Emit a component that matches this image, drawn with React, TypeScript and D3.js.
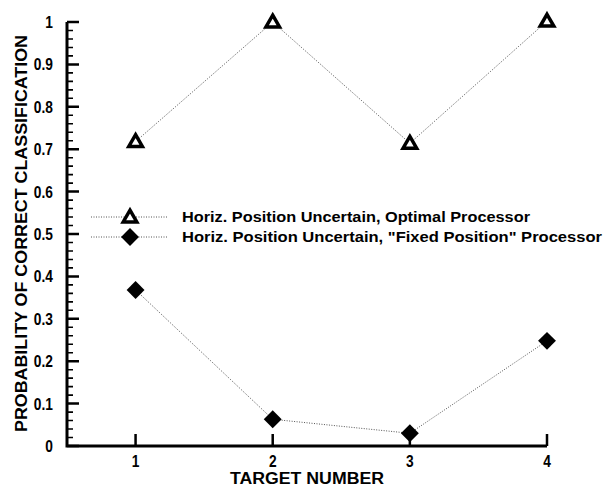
import { useEffect, useRef } from "react";
import * as d3 from "d3";

const targets = [1, 2, 3, 4];
const optimal = [0.718, 1.0, 0.714, 1.002];
const fixedPos = [0.368, 0.063, 0.03, 0.248];
const yTicks = [0, 0.1, 0.2, 0.3, 0.4, 0.5, 0.6, 0.7, 0.8, 0.9, 1];
const legendLabels = [
  "Horiz. Position Uncertain, Optimal Processor",
  'Horiz. Position Uncertain, "Fixed Position" Processor',
];
const legendWidths = [348, 420];

export default function App() {
  const svgRef = useRef<SVGSVGElement>(null);

  useEffect(() => {
    if (!svgRef.current) return;
    const svg = d3.select(svgRef.current);
    svg.selectAll("*").remove();

    const font = "'Liberation Sans', Arial, sans-serif";
    const x = d3.scaleLinear().domain([0.5, 4]).range([67, 547]);
    const y = d3.scaleLinear().domain([0, 1]).range([446, 22]);

    // y ticks: minor every 0.02, major every 0.1, pointing inward
    const minor = d3.range(0, 51).map((i) => i / 50);
    const isMajor = (d: number) => Math.round(d * 50) % 5 === 0;
    svg
      .append("path")
      .attr("d", minor.filter((d) => !isMajor(d)).map((d) => `M${x(0.5)},${y(d)}h6`).join(""))
      .attr("fill", "none")
      .attr("stroke", "#000")
      .attr("stroke-width", 1.6);
    svg
      .append("path")
      .attr("d", minor.filter(isMajor).map((d) => `M${x(0.5)},${y(d)}h12`).join(""))
      .attr("fill", "none")
      .attr("stroke", "#000")
      .attr("stroke-width", 2.5);

    svg
      .append("g")
      .selectAll("text")
      .data(yTicks)
      .join("text")
      .attr("x", 53)
      .attr("y", (d) => y(d) + 6)
      .attr("text-anchor", "end")
      .attr("font-family", font)
      .attr("font-size", 16)
      .attr("font-weight", "bold")
      .attr("transform", `translate(${53 * 0.14},0) scale(0.86,1)`)
      .text((d) => (d === 0 || d === 1 ? String(d) : d3.format(".1f")(d)));

    // x ticks
    svg
      .append("path")
      .attr("d", targets.map((d) => `M${x(d)},${y(0)}v-12`).join(""))
      .attr("fill", "none")
      .attr("stroke", "#000")
      .attr("stroke-width", 2.5);

    svg
      .append("g")
      .selectAll("text")
      .data(targets)
      .join("text")
      .attr("x", (d) => x(d) / 0.86)
      .attr("y", 467)
      .attr("text-anchor", "middle")
      .attr("font-family", font)
      .attr("font-size", 16)
      .attr("font-weight", "bold")
      .attr("transform", "scale(0.86,1)")
      .text((d) => d);

    // axes
    svg
      .append("path")
      .attr("d", `M${x(0.5)},${y(1)}V${y(0)}H${x(4)}`)
      .attr("fill", "none")
      .attr("stroke", "#000")
      .attr("stroke-width", 3);

    // axis titles
    svg
      .append("text")
      .attr("x", 230)
      .attr("y", 484)
      .attr("font-family", font)
      .attr("font-weight", "bold")
      .attr("font-size", 16)
      .attr("textLength", 154)
      .attr("lengthAdjust", "spacingAndGlyphs")
      .text("TARGET NUMBER");

    svg
      .append("text")
      .attr("transform", `translate(27,432) rotate(-90)`)
      .attr("font-family", font)
      .attr("font-weight", "bold")
      .attr("font-size", 16)
      .attr("textLength", 397)
      .attr("lengthAdjust", "spacingAndGlyphs")
      .text("PROBABILITY OF CORRECT CLASSIFICATION");

    const line = d3
      .line<number>()
      .x((_, i) => x(targets[i]))
      .y((d) => y(d));

    const tri = d3.symbol().type(d3.symbolTriangle).size(80);
    const dia = d3.symbol().type(d3.symbolSquare).size(160);

    const marker = (g: d3.Selection<any, any, any, any>, kind: "tri" | "dia") =>
      g
        .attr("d", kind === "tri" ? tri() : dia())
        .attr("fill", kind === "tri" ? "#fff" : "#000")
        .attr("stroke", "#000")
        .attr("stroke-width", kind === "tri" ? 3.5 : 0)
        .attr("stroke-linejoin", "miter");

    const drawSeries = (vals: number[], kind: "tri" | "dia") => {
      svg
        .append("path")
        .attr("d", line(vals))
        .attr("fill", "none")
        .attr("stroke", "#555")
        .attr("stroke-width", 1)
        .attr("stroke-dasharray", "1,1.5");
      svg
        .append("g")
        .selectAll("path")
        .data(vals)
        .join("path")
        .attr("transform", (d, i) =>
          kind === "tri"
            ? `translate(${x(targets[i])},${y(d) + 1})`
            : `translate(${x(targets[i])},${y(d)}) rotate(45)`
        )
        .call((s) => marker(s, kind));
    };
    drawSeries(optimal, "tri");
    drawSeries(fixedPos, "dia");

    // legend
    const legendY = [217, 237];
    legendLabels.forEach((label, i) => {
      const ly = legendY[i];
      const kind = i === 0 ? "tri" : "dia";
      svg
        .append("line")
        .attr("x1", 91)
        .attr("x2", 167)
        .attr("y1", ly)
        .attr("y2", ly)
        .attr("stroke", "#555")
        .attr("stroke-width", 1)
        .attr("stroke-dasharray", "1,1.5");
      svg
        .append("path")
        .attr("transform", kind === "tri" ? `translate(130,${ly + 1})` : `translate(130,${ly}) rotate(45)`)
        .call((s) => marker(s, kind));
      svg
        .append("text")
        .attr("x", 182)
        .attr("y", ly + 5)
        .attr("font-family", font)
        .attr("font-weight", "bold")
        .attr("font-size", 15)
        .attr("textLength", legendWidths[i])
        .attr("lengthAdjust", "spacingAndGlyphs")
        .text(label);
    });
  }, []);

  return (
    <svg
      ref={svgRef}
      width={605}
      height={488}
      style={{ position: "absolute", left: 0, top: 0, background: "#fff" }}
    />
  );
}
